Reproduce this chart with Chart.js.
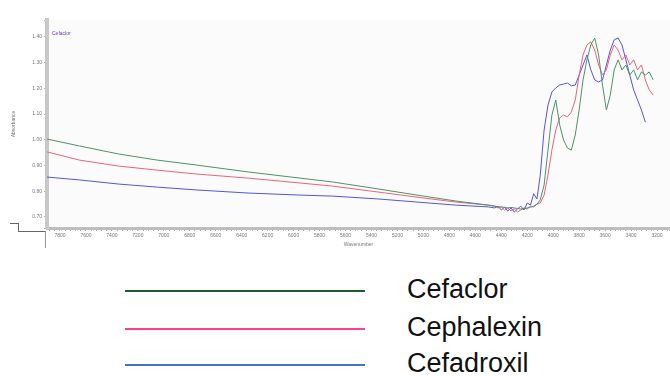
<!DOCTYPE html>
<html>
<head>
<meta charset="utf-8">
<script src="https://cdn.jsdelivr.net/npm/chart.js@4/dist/chart.umd.min.js"></script>
<style>
  html,body{margin:0;padding:0;background:#fff;width:670px;height:376px;overflow:hidden;font-family:"Liberation Sans",Arial,sans-serif;}
  #wrap{position:absolute;left:0;top:0;width:670px;height:260px;}
  .deco{position:absolute;background:#666;}
  .leg-line{position:absolute;left:125px;width:240px;height:1.5px;}
  .leg-text{position:absolute;left:407px;font-size:27px;line-height:27px;color:#111;white-space:nowrap;}
  #inlbl{position:absolute;left:52px;top:30px;font-size:5px;color:#6a3cc8;}
</style>
</head>
<body>
<div id="wrap"><canvas id="c" width="670" height="260"></canvas></div>
<div id="inlbl">Cefaclor</div>
<div class="deco" style="left:10px;top:223px;width:8px;height:1px;"></div>
<div class="deco" style="left:18px;top:223px;width:1px;height:8px;"></div>
<div class="deco" style="left:18px;top:231px;width:27px;height:1px;"></div>
<div class="deco" style="left:45px;top:231px;width:1px;height:17px;background:#999;"></div>
<div id="legend"></div>
<script>
// ---- data ----
const wavenumbers = [7900,7650,7350,7050,6750,6350,5950,5700,5350,5050,4750,4500,
  4450,4425,4400,4375,4350,4325,4300,4275,4250,4225,4200,4175,4150,4125,4100,
  4070,4040,4010,3980,3950,3920,3890,3860,3830,3800,3770,3740,3710,3680,3650,3620,3590,3560,3530,3500,3470,3440,3410,3380,3350,3320,3290,3260,3230];
const cefaclor   = [1.003,0.976,0.945,0.921,0.902,0.875,0.851,0.836,0.809,0.785,0.762,0.746,
  0.742,0.739,0.739,0.737,0.735,0.737,0.735,0.733,0.731,0.733,0.735,0.738,0.742,0.750,0.766,
  0.824,0.960,1.096,1.155,1.058,0.999,0.968,0.960,1.019,1.116,1.233,1.311,1.369,1.396,1.330,1.213,1.116,1.174,1.272,1.311,1.272,1.291,1.252,1.272,1.233,1.264,1.252,1.264,1.233];
const cephalexin = [0.953,0.921,0.898,0.882,0.867,0.851,0.832,0.820,0.797,0.777,0.758,0.746,
  0.742,0.735,0.739,0.727,0.735,0.723,0.731,0.719,0.727,0.735,0.731,0.742,0.739,0.750,0.754,
  0.785,0.863,0.960,1.038,1.085,1.097,1.089,1.108,1.155,1.252,1.330,1.369,1.381,1.349,1.291,1.252,1.272,1.330,1.369,1.349,1.311,1.330,1.291,1.311,1.272,1.291,1.233,1.194,1.174];
const cefadroxil = [0.855,0.844,0.828,0.816,0.805,0.793,0.785,0.781,0.770,0.758,0.746,0.739,
  0.735,0.742,0.727,0.738,0.723,0.735,0.719,0.731,0.742,0.727,0.754,0.746,0.790,0.770,0.860,
  1.038,1.135,1.186,1.202,1.213,1.217,1.221,1.210,1.213,1.252,1.291,1.330,1.272,1.233,1.225,1.233,1.291,1.349,1.389,1.396,1.369,1.311,1.252,1.194,1.155,1.116,1.069,null,null];
const seriesNames = ['Cefaclor','Cephalexin','Cefadroxil'];
const plotColors = ['#4f9268','#e8647e','#5555e0'];
const legendColors = ['#1f5a2b','#ff3c98','#4472c4'];
const xMin = 3100, xMax = 7900, yMin = 0.657, yMax = 1.466;
const xMinorStep = 40, xLabelStep = 200;

// ---- legend (HTML) ----
const legendTops = [290, 328, 364];
const lg = document.getElementById('legend');
seriesNames.forEach((n,i)=>{
  const l = document.createElement('div'); l.className='leg-line';
  l.style.top = legendTops[i]+'px'; l.style.background = legendColors[i]; lg.appendChild(l);
  const t = document.createElement('div'); t.className='leg-text';
  t.style.top = (legendTops[i]-14)+'px'; t.textContent = n; lg.appendChild(t);
});

const seriesVals = [cefaclor, cephalexin, cefadroxil];
const datasets = seriesVals.map((vals,i)=>({
  label: seriesNames[i],
  data: wavenumbers.map((w,j)=>({x:w, y:vals[j]})),
  borderColor: plotColors[i],
  borderWidth: 1,
  pointRadius: 0,
  showLine: true,
  tension: 0,
  spanGaps: false
}));

const bgPlugin = {
  id:'bg',
  beforeDraw(chart){
    const {ctx, chartArea:a} = chart;
    ctx.save(); ctx.fillStyle='#fbfbfb'; ctx.fillRect(a.left,a.top,a.right-a.left,a.bottom-a.top); ctx.restore();
  }
};

new Chart(document.getElementById('c'), {
  type:'scatter',
  data:{datasets},
  plugins:[bgPlugin],
  options:{
    responsive:false, animation:false,
    layout:{padding:{top:20,right:0,left:0,bottom:12}},
    plugins:{legend:{display:false}, tooltip:{enabled:false}},
    scales:{
      x:{
        type:'linear', reverse:true, min:xMin, max:xMax,
        afterFit(s){ s.height = 20; },
        afterBuildTicks(s){
          const t=[]; for(let v=Math.ceil(xMin/xMinorStep)*xMinorStep; v<=xMax; v+=xMinorStep) t.push({value:v});
          s.ticks=t;
        },
        border:{display:true,color:'#bdbdbd',width:3},
        grid:{drawOnChartArea:false, tickLength:3, color:'#aaa'},
        ticks:{autoSkip:false, maxRotation:0, minRotation:0, padding:2,
          font:{size:5}, color:'#777',
          callback:(v)=> (Math.round(v)%xLabelStep===0 ? String(Math.round(v)) : '')},
        title:{display:true,text:'Wavenumber',font:{size:5},color:'#777',padding:{top:0,bottom:0}}
      },
      y:{
        min:yMin, max:yMax,
        afterFit(s){ s.width = 47; },
        border:{display:true,color:'#c8c8c8',width:4},
        grid:{drawOnChartArea:false, tickLength:3, color:'#aaa'},
        ticks:{stepSize:0.1, font:{size:5}, color:'#777', padding:2,
          callback:(v)=>{const r=Math.round(v*100)/100; return (Math.abs(r*10-Math.round(r*10))<1e-6)? r.toFixed(2):'';}},
        title:{display:true,text:'Absorbance',font:{size:5},color:'#777',padding:{top:11,bottom:4}}
      }
    }
  }
});
</script>
</body>
</html>
